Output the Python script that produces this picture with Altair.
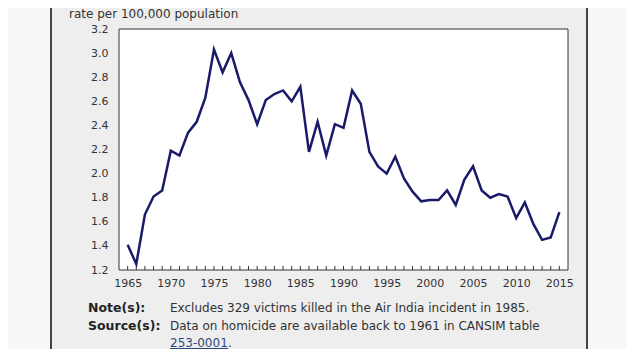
import altair as alt
import pandas as pd

years = list(range(1965, 2016))
rates = [1.41, 1.25, 1.66, 1.81, 1.86, 2.19, 2.15, 2.34, 2.43, 2.63,
         3.03, 2.84, 3.00, 2.76, 2.61, 2.41, 2.61, 2.66, 2.69, 2.60,
         2.72, 2.18, 2.43, 2.15, 2.41, 2.38, 2.69, 2.58, 2.18, 2.06,
         2.00, 2.14, 1.96, 1.85, 1.77, 1.78, 1.78, 1.86, 1.74, 1.95,
         2.06, 1.86, 1.80, 1.83, 1.81, 1.63, 1.76, 1.58, 1.45, 1.47,
         1.68]
x_labels = [1965, 1970, 1975, 1980, 1985, 1990, 1995, 2000, 2005, 2010, 2015]
y_labels = [1.2, 1.4, 1.6, 1.8, 2.0, 2.2, 2.4, 2.6, 2.8, 3.0, 3.2]
y_title = "rate per 100,000 population"
note_heads = ["Note(s):", "Source(s):"]
note_texts = ["Excludes 329 victims killed in the Air India incident in 1985.",
              "Data on homicide are available back to 1961 in CANSIM table"]
link_text = "253-0001"

W, H = 449, 241
FONT = "DejaVu Sans"

df = pd.DataFrame({"year": years, "rate": rates})
xs = alt.Scale(domain=[1964, 2016], nice=False, zero=False)
ys = alt.Scale(domain=[1.2, 3.2], nice=False, zero=False)

panel = alt.Chart(pd.DataFrame({"a": [0]})).mark_rect(
    fill="#eeeeee", stroke="#444444", strokeWidth=2
).encode(x=alt.value(-68), x2=alt.value(468), y=alt.value(-60), y2=alt.value(400))

plotbg = alt.Chart(pd.DataFrame({"a": [0]})).mark_rect(
    fill="white", stroke="#333333", strokeWidth=1
).encode(x=alt.value(0), x2=alt.value(W), y=alt.value(0), y2=alt.value(H))

line = alt.Chart(df).mark_line(color="#1a1a6b", strokeWidth=2.5).encode(
    x=alt.X("year:Q", scale=xs,
            axis=alt.Axis(values=x_labels, format="d", title=None, ticks=False,
                          domain=False, grid=False, labelFontSize=11, labelFont=FONT,
                          labelColor="#333333", labelPadding=7, zindex=1,
                          labelFlush=False)),
    y=alt.Y("rate:Q", scale=ys,
            axis=alt.Axis(values=y_labels, format=".1f", title=None, ticks=False,
                          domain=False, grid=False, labelFontSize=11, labelFont=FONT,
                          labelColor="#333333", labelPadding=11, zindex=1,
                          labelFlush=False)),
)

minor = alt.Chart(pd.DataFrame({"year": years})).mark_rule(
    color="#333333", strokeWidth=1
).encode(x=alt.X("year:Q", scale=xs), y=alt.value(H - 4), y2=alt.value(H))

title = alt.Chart(pd.DataFrame({"t": [y_title]})).mark_text(
    align="left", baseline="alphabetic", font=FONT, fontSize=12, color="#333333"
).encode(x=alt.value(-50), y=alt.value(-11), text="t:N")

heads = alt.Chart(pd.DataFrame({"t": note_heads, "yy": [283, 301]})).mark_text(
    align="left", baseline="alphabetic", font=FONT, fontSize=12.5,
    fontWeight="bold", color="#222222"
).encode(x=alt.value(-31), y=alt.Y("yy:Q", scale=None), text="t:N")

texts = alt.Chart(pd.DataFrame({"t": note_texts, "yy": [283, 301]})).mark_text(
    align="left", baseline="alphabetic", font=FONT, fontSize=12, color="#333333"
).encode(x=alt.value(51), y=alt.Y("yy:Q", scale=None), text="t:N")

link = alt.Chart(pd.DataFrame({"t": [link_text]})).mark_text(
    align="left", baseline="alphabetic", font=FONT, fontSize=12, color="#2b4a7a"
).encode(x=alt.value(51), y=alt.value(318), text="t:N")

dot = alt.Chart(pd.DataFrame({"t": ["."]})).mark_text(
    align="left", baseline="alphabetic", font=FONT, fontSize=12, color="#333333"
).encode(x=alt.value(109), y=alt.value(318), text="t:N")

underline = alt.Chart(pd.DataFrame({"a": [0]})).mark_rule(
    color="#2b4a7a", strokeWidth=1
).encode(x=alt.value(51), x2=alt.value(109), y=alt.value(319.5))

chart = alt.layer(panel, plotbg, minor, line, title, heads, texts, link, dot, underline).properties(
    width=W, height=H,
    autosize=alt.AutoSizeParams(type="none"),
    padding={"left": 111, "top": 21, "right": 59, "bottom": 79},
    background="#f8f8f8",
).configure_view(stroke=None)

chart.save("out.html", embed_options={"renderer": "svg", "actions": False})
